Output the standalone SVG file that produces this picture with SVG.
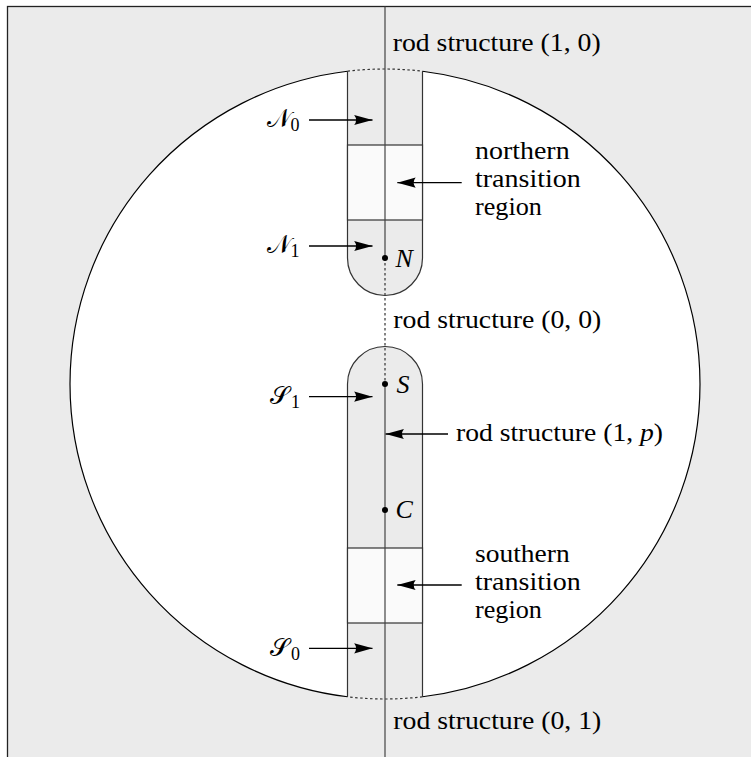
<svg xmlns="http://www.w3.org/2000/svg" width="751" height="757" viewBox="0 0 751 757">
<style>
.bg{fill:#ebebeb;stroke:#222;stroke-width:1.3}
.strip{fill:#ebebeb;stroke:none}
.edge{fill:none;stroke:#333;stroke-width:1.2}
.box{fill:#fafafa;stroke:#333;stroke-width:1.2}
.circ{fill:none;stroke:#000;stroke-width:1.2}
.dash{fill:none;stroke:#333;stroke-width:1.2;stroke-dasharray:2.5 2.5}
.axis{fill:none;stroke:#444;stroke-width:1.2}
.dot{fill:#000}
.arr{fill:none;stroke:#000;stroke-width:1.3;marker-end:url(#ah)}
text{font-family:"Liberation Serif","Times New Roman",serif;font-size:26px;fill:#000}
.it{font-style:italic}
.cal{font-family:"DejaVu Serif","DejaVu Sans","Noto Sans",serif;font-style:normal;font-size:25px}
.sub{font-size:18px}
</style>
<defs>
<marker id="ah" markerUnits="userSpaceOnUse" markerWidth="20" markerHeight="12" viewBox="-17 -5 18 10" refX="0" refY="0" orient="auto">
<path d="M0,0 L-16.5,-4.6 Q-13,0 -16.5,4.6 Z" fill="#000"/>
</marker>
</defs>
<rect class="bg" x="7.5" y="6.5" width="760" height="760"/>
<g id="disc">
<circle cx="385" cy="384" r="315" fill="#fff"/>
</g>
<g id="north-region">
<path class="strip" d="M347.5,71.24 A315,315 0 0 1 422.5,71.24 L422.5,258 A37.5,37.5 0 0 1 347.5,258 Z"/>
<path class="edge" d="M347.5,71.24 L347.5,258 A37.5,37.5 0 0 0 422.5,258 L422.5,71.24"/>
<rect class="box" x="347.5" y="145" width="75" height="75"/>
</g>
<g id="south-region">
<path class="strip" d="M347.5,384 A37.5,37.5 0 0 1 422.5,384 L422.5,696.76 A315,315 0 0 1 347.5,696.76 Z"/>
<path class="edge" d="M347.5,696.76 L347.5,384 A37.5,37.5 0 0 1 422.5,384 L422.5,696.76"/>
<rect class="box" x="347.5" y="548" width="75" height="75"/>
</g>
<g id="circle-outline">
<path class="circ" d="M422.5,71.24 A315,315 0 0 1 422.5,696.76"/>
<path class="circ" d="M347.5,696.76 A315,315 0 0 1 347.5,71.24"/>
<path class="dash" d="M347.5,71.24 A315,315 0 0 1 422.5,71.24"/>
<path class="dash" d="M422.5,696.76 A315,315 0 0 1 347.5,696.76"/>
</g>
<g id="connectors">
<line class="axis" x1="385" y1="6.5" x2="385" y2="258"/>
<line class="dash" x1="385" y1="258" x2="385" y2="384"/>
<line class="axis" x1="385" y1="384" x2="385" y2="757"/>
<line class="arr" x1="309" y1="120" x2="372.5" y2="120"/>
<line class="arr" x1="309" y1="246" x2="372.5" y2="246"/>
<line class="arr" x1="309" y1="396.7" x2="372.5" y2="396.7"/>
<line class="arr" x1="309" y1="648.3" x2="372.5" y2="648.3"/>
<line class="arr" x1="461.7" y1="182.7" x2="397.3" y2="182.7"/>
<line class="arr" x1="461.7" y1="585" x2="397.3" y2="585"/>
<line class="arr" x1="448" y1="434" x2="385.6" y2="434"/>
</g>
<g id="point-N">
<circle class="dot" cx="385" cy="258" r="3"/>
<text class="it" x="395.5" y="267">N</text>
</g>
<g id="point-S">
<circle class="dot" cx="385" cy="384" r="3"/>
<text class="it" x="396.5" y="393">S</text>
</g>
<g id="point-C">
<circle class="dot" cx="385" cy="510" r="3"/>
<text class="it" x="395.5" y="517.5">C</text>
</g>
<g id="label-rod-10"><text x="392.7" y="51" textLength="208" lengthAdjust="spacingAndGlyphs">rod structure (1, 0)</text></g>
<g id="label-rod-00"><text x="393.3" y="328" textLength="208" lengthAdjust="spacingAndGlyphs">rod structure (0, 0)</text></g>
<g id="label-rod-01"><text x="393.3" y="729" textLength="208" lengthAdjust="spacingAndGlyphs">rod structure (0, 1)</text></g>
<g id="label-rod-1p"><text x="456" y="441" textLength="207" lengthAdjust="spacingAndGlyphs">rod structure (1, <tspan class="it">p</tspan>)</text></g>
<g id="label-north-transition">
<text x="475" y="159" textLength="94.6" lengthAdjust="spacingAndGlyphs">northern</text>
<text x="475" y="187" textLength="105.8" lengthAdjust="spacingAndGlyphs">transition</text>
<text x="475" y="215" textLength="66.8" lengthAdjust="spacingAndGlyphs">region</text>
</g>
<g id="label-south-transition">
<text x="475" y="562" textLength="94.7" lengthAdjust="spacingAndGlyphs">southern</text>
<text x="475" y="590" textLength="105.8" lengthAdjust="spacingAndGlyphs">transition</text>
<text x="475" y="618" textLength="66.8" lengthAdjust="spacingAndGlyphs">region</text>
</g>
<g id="label-N0"><text><tspan class="cal" x="267" y="127">𝒩</tspan><tspan class="sub" x="290.5" y="131">0</tspan></text></g>
<g id="label-N1"><text><tspan class="cal" x="267" y="253">𝒩</tspan><tspan class="sub" x="290.5" y="257">1</tspan></text></g>
<g id="label-S1"><text><tspan class="cal" x="270" y="404">𝒮</tspan><tspan class="sub" x="291" y="408">1</tspan></text></g>
<g id="label-S0"><text><tspan class="cal" x="270" y="656">𝒮</tspan><tspan class="sub" x="291" y="660">0</tspan></text></g>
</svg>
